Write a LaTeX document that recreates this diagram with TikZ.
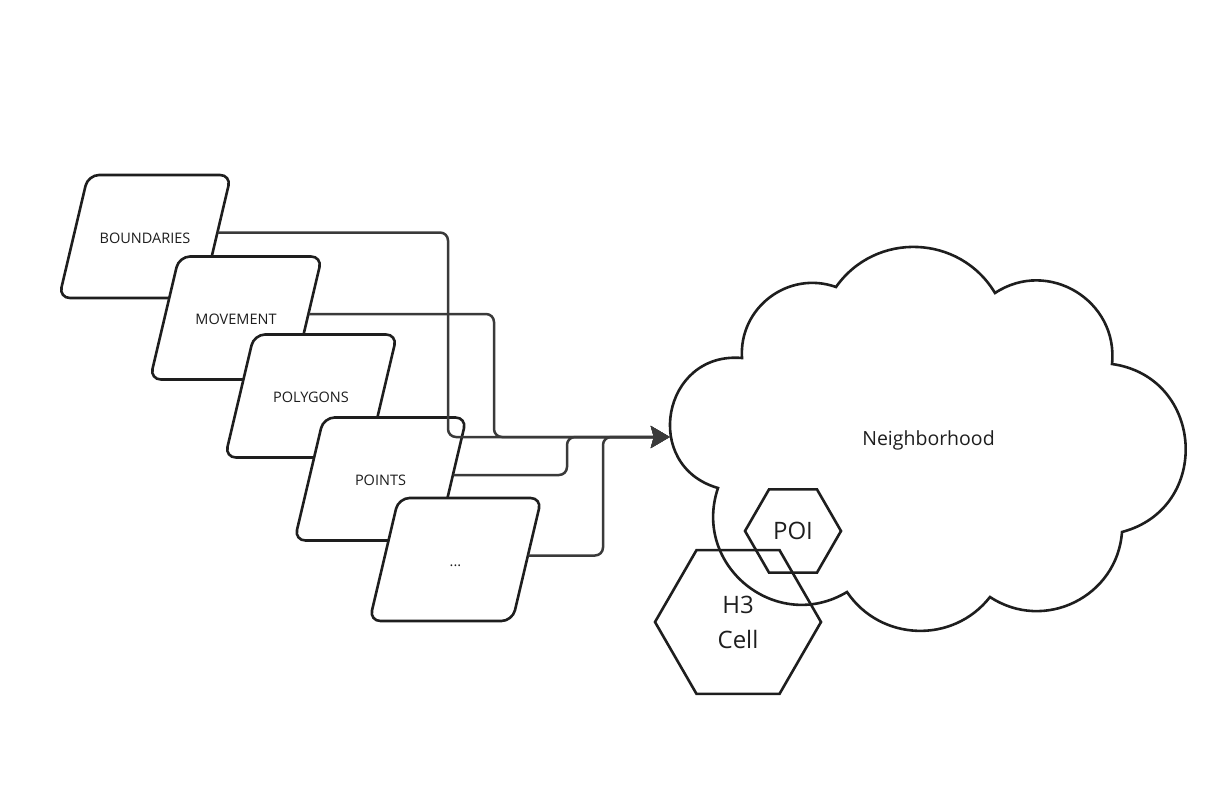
\documentclass[tikz,border=0pt]{standalone}
\usepackage{fontspec}
\setmainfont{Open Sans}
\usetikzlibrary{arrows.meta,positioning,shapes.geometric,calc}
\definecolor{ink}{HTML}{1E1E1E}
\definecolor{wire}{HTML}{3A3A3A}

\begin{document}
\begin{tikzpicture}[x=1pt,y=-1pt,
  layer/.style={draw=ink,line width=2.6pt,fill=white,trapezium,
                trapezium left angle=76.7,trapezium right angle=103.3,
                trapezium stretches body=true,minimum width=172pt,
                text height=13pt,text depth=0pt,inner xsep=0pt,inner ysep=55pt,
                rounded corners=11pt,text=ink,
                font=\fontsize{14.5}{17}\selectfont},
  hexa/.style={draw=ink,line width=2.6pt,regular polygon,regular polygon sides=6,
               inner sep=0pt,align=center,text=ink,font=\fontsize{24}{35}\selectfont},
  link/.style={draw=wire,line width=2.5pt,rounded corners=8pt,
               -{Stealth[length=19pt,width=22pt,inset=3pt]}}
]
\useasboundingbox (0,0) rectangle (1232,811);

% input layers, stacked back to front
\node[layer] (bnd) at (145,236.5) {BOUNDARIES};
\node[layer] (mov) at (236,318) {MOVEMENT};
\node[layer] (pol) at (311,396) {POLYGONS};
\node[layer] (pts) at (380.5,479) {POINTS};
\node[layer] (etc) at (455.5,559.5) {...};

% neighborhood cloud
\node[minimum width=517pt,minimum height=384pt,text=ink,
      font=\fontsize{19.5}{24}\selectfont] (nbh) at (928.5,440.5) {Neighborhood};
\coordinate (nbhin) at ([yshift=3.5pt]nbh.west);
\draw[ink,line width=2.6pt,line join=miter]
  (836,287) to[bend left=57,looseness=1.10] (995,293)
  to[bend left=64.7,looseness=1.19] (1112,364)
  to[bend left=78.6,looseness=1.42] (1122,532)
  to[bend left=59.6,looseness=1.13] (990,597)
  to[bend left=54,looseness=1.07] (847,592)
  to[bend left=69.8,looseness=1.27] (718,488)
  to[bend left=84.5,looseness=1.55] (742,358)
  to[bend left=56.7,looseness=1.10] (836,287) -- cycle;

% cells
\node[hexa,minimum size=166pt] (cell) at (738,622) {H3\\Cell};
\node[hexa,minimum size=96pt] (poi) at (793,531) {POI};

% connectors into the cloud
\draw[link] ([yshift=4pt]bnd.east) -| (448,0 |- nbhin) -- (nbhin);
\draw[link] ([yshift=4pt]mov.east) -| (494,0 |- nbhin) -- (nbhin);
\draw[link] ([yshift=4pt]pts.east) -| (567,0 |- nbhin) -- (nbhin);
\draw[link] ([yshift=4pt]etc.east) -| (603,0 |- nbhin) -- (nbhin);
\end{tikzpicture}
\end{document}
